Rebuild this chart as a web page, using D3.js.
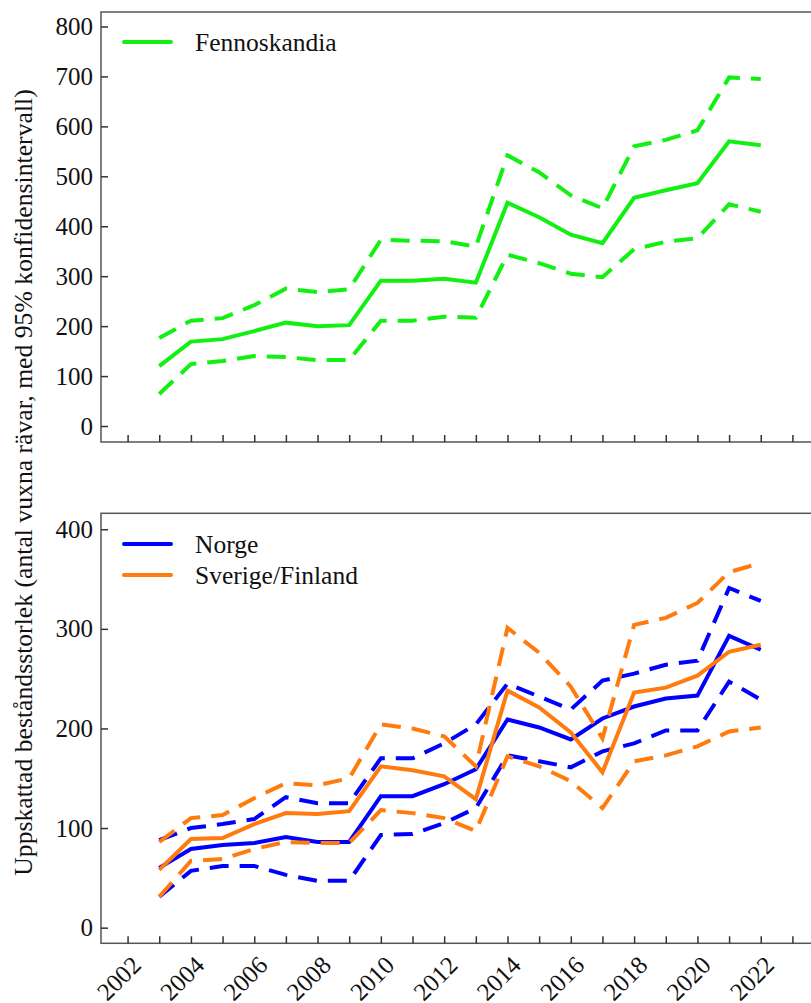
<!DOCTYPE html>
<html><head><meta charset="utf-8">
<script src="https://cdn.jsdelivr.net/npm/d3@7"></script>
<style>
body{margin:0;background:#fff;}
svg{display:block;}
</style></head>
<body><svg id="c" width="811" height="1003"></svg>
<script>
const years = d3.range(2003, 2023);
const fennoMean  = [120,169,174,190,207,200,202,291,291,295,287,447,418,383,366,457,472,486,570,562];
const fennoUpper = [176,211,216,242,275,268,274,373,371,370,359,542,508,462,436,560,573,592,698,695];
const fennoLower = [64,124,130,140,138,132,132,211,211,219,217,343,326,305,298,354,369,376,444,429];

const norgeMean  = [60,79,83,85,91,86,86,132,132,144,159,209,201,189,210,222,230,233,293,279];
const norgeUpper = [88,100,104,109,131,125,125,170,170,185,204,245,232,219,248,255,264,268,341,328];
const norgeLower = [31,57,62,62,53,47,47,93,94,105,120,173,167,161,177,185,198,198,247,229];

const sfMean  = [58,89,90,104,115,114,117,162,158,152,129,238,221,196,156,236,241,253,277,284];
const sfUpper = [86,110,113,130,145,143,150,204,200,192,162,301,276,242,190,304,311,326,357,366];
const sfLower = [31,67,69,79,86,85,85,118,115,110,97,172,162,147,120,167,173,182,197,201];

const xTickYears = d3.range(2002, 2024);
const topTicks = [0,100,200,300,400,500,600,700,800];
const bottomTicks = [0,100,200,300,400];
const yTitle = "Uppskattad beståndsstorlek (antal vuxna rävar, med 95% konfidensintervall)";

const FONT = "Liberation Serif";
const GREEN = "#12f012", BLUE = "#0000ff", ORANGE = "#ff7b0e";
const svg = d3.select("#c");
const x = d3.scaleLinear().domain([2001.16, 2023.84]).range([101, 819]);

function panel(y0, y1, domain, ticks, series, legend, showLabels){
  const y = d3.scaleLinear().domain(domain).range([y1, y0]);
  const g = svg.append("g");
  g.append("rect").attr("x",101).attr("y",y0).attr("width",718).attr("height",y1-y0)
    .attr("fill","none").attr("stroke","#555").attr("stroke-width",1.5);
  const ya = d3.axisLeft(y).tickValues(ticks).tickSizeInner(-7).tickSizeOuter(0).tickPadding(8);
  const yg = g.append("g").attr("transform","translate(101,0)").call(ya);
  yg.attr("font-family", null).attr("font-size", null);
  yg.select(".domain").remove();
  yg.selectAll(".tick line").attr("stroke","#333").attr("stroke-width",1.5);
  yg.selectAll(".tick text").style("font-family",FONT).style("font-size","25px").attr("fill","#111");
  const xa = d3.axisBottom(x).tickValues(xTickYears).tickSizeInner(-7).tickSizeOuter(0)
    .tickFormat(d => showLabels && d % 2 === 0 ? String(d) : "");
  const xg = g.append("g").attr("transform",`translate(0,${y1})`).call(xa);
  xg.attr("font-family", null).attr("font-size", null);
  xg.select(".domain").remove();
  xg.selectAll(".tick line").attr("stroke","#333").attr("stroke-width",1.5);
  xg.selectAll(".tick text").style("font-family",FONT).style("font-size","25px").attr("fill","#111")
    .attr("text-anchor","end").attr("dy",null).attr("y",null)
    .attr("transform","translate(2,11) rotate(-45)").attr("dominant-baseline","hanging");
  const line = d3.line().x((d,i)=>x(years[i])).y(d=>y(d));
  series.forEach(s=>{
    g.append("path").datum(s.data).attr("d",line).attr("fill","none")
      .attr("stroke",s.color).attr("stroke-width",4)
      .attr("stroke-dasharray", s.dash ? "19,11" : null);
  });
  legend.forEach(l=>{
    g.append("line").attr("x1",124).attr("x2",171).attr("y1",l.y).attr("y2",l.y)
      .attr("stroke",l.color).attr("stroke-width",4).attr("stroke-linecap","round");
    g.append("text").attr("x",195).attr("y",l.y+9).style("font-family",FONT).style("font-size","25.5px")
      .attr("fill","#111").text(l.label);
  });
  return y;
}

panel(12, 442, [-32, 829], topTicks, [
  {data:fennoUpper,color:GREEN,dash:true},
  {data:fennoLower,color:GREEN,dash:true},
  {data:fennoMean,color:GREEN,dash:false}
], [{label:"Fennoskandia",color:GREEN,y:42}], false);

panel(513.3, 943.3, [-15.7, 416], bottomTicks, [
  {data:norgeUpper,color:BLUE,dash:true},
  {data:norgeLower,color:BLUE,dash:true},
  {data:norgeMean,color:BLUE,dash:false},
  {data:sfUpper,color:ORANGE,dash:true},
  {data:sfLower,color:ORANGE,dash:true},
  {data:sfMean,color:ORANGE,dash:false}
], [{label:"Norge",color:BLUE,y:544},{label:"Sverige/Finland",color:ORANGE,y:575}], true);

svg.append("text").attr("transform","translate(32,482.5) rotate(-90)")
  .attr("text-anchor","middle").style("font-family",FONT).style("font-size","25.7px").attr("fill","#111").text(yTitle);
</script></body></html>
